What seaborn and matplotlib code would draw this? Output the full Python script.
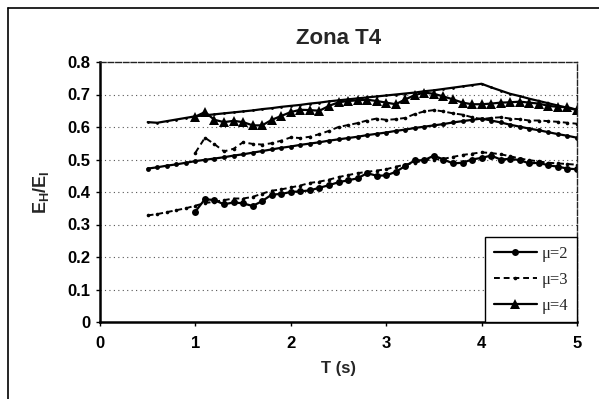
import numpy as np
import pandas as pd
import matplotlib
matplotlib.use("Agg")
import matplotlib.pyplot as plt
import seaborn as sns
from matplotlib.lines import Line2D

sns.set_theme(style="white")
plt.rcParams['font.family'] = ['Liberation Sans', 'DejaVu Sans']
plt.rcParams['mathtext.fontset'] = 'custom'
plt.rcParams['mathtext.rm'] = 'Liberation Sans:bold'
plt.rcParams['mathtext.it'] = 'Liberation Sans:bold'
plt.rcParams['mathtext.bf'] = 'Liberation Sans:bold'

# ---- data ----
T_full = [0.5, 0.6, 0.7, 0.8, 0.9, 1.0, 1.1, 1.2, 1.3, 1.4, 1.5, 1.6, 1.7, 1.8, 1.9,
          2.0, 2.1, 2.2, 2.3, 2.4, 2.5, 2.6, 2.7, 2.8, 2.9, 3.0, 3.1, 3.2, 3.3, 3.4,
          3.5, 3.6, 3.7, 3.8, 3.9, 4.0, 4.1, 4.2, 4.3, 4.4, 4.5, 4.6, 4.7, 4.8, 4.9, 5.0]
T_data = T_full[5:]

mu2_smooth = [.472, .476, .481, .485, .490, .495, .499, .503, .507, .512, .516, .521, .526,
              .531, .536, .540, .545, .549, .553, .558, .562, .566, .570, .575, .579, .583,
              .588, .592, .597, .601, .605, .609, .614, .618, .622, .626, .620, .614, .607,
              .601, .595, .590, .584, .578, .573, .567]
mu2_data = [.340, .378, .375, .362, .368, .365, .357, .372, .392, .394, .400, .402, .405,
            .413, .421, .430, .436, .442, .458, .450, .451, .462, .480, .497, .498, .512,
            .500, .488, .490, .500, .505, .512, .500, .502, .498, .488, .490, .482, .478,
            .472, .470]
mu3_upper = [.521, .567, .547, .525, .533, .553, .548, .546, .550, .558, .568, .566, .570,
             .578, .588, .600, .606, .612, .620, .626, .622, .624, .628, .640, .648, .652,
             .648, .642, .638, .630, .624, .628, .630, .626, .624, .620, .620, .618, .616,
             .613, .610]
mu3_lower = [.328, .332, .338, .344, .350, .358, .366, .370, .375, .380, .380, .385, .395,
             .404, .408, .414, .420, .428, .432, .438, .446, .452, .458, .462, .466, .470,
             .478, .484, .490, .498, .500, .502, .508, .514, .518, .522, .520, .516, .510,
             .503, .498, .494, .490, .488, .486, .484]
mu4_smooth = [.615, .613, .618, .623, .628, .633, .636, .639, .642, .645, .648, .651, .655,
              .658, .662, .665, .668, .672, .675, .679, .682, .685, .688, .691, .694, .697,
              .700, .703, .706, .710, .713, .717, .721, .725, .729, .733, .722, .712, .702,
              .695, .687, .680, .673, .666, .659, .652]
mu4_data = [.632, .646, .622, .615, .619, .615, .605, .605, .622, .634, .646, .653, .652,
            .650, .665, .676, .680, .682, .684, .680, .675, .670, .685, .698, .706, .702,
            .694, .685, .675, .670, .670, .672, .675, .676, .678, .675, .672, .665, .662,
            .661, .653]

labels = ['\u03bc=2', '\u03bc=3', '\u03bc=4']

fig = plt.figure(figsize=(5.99, 3.99), dpi=100)
ax = fig.add_axes([100/599, 1-322/399, 477/599, 260/399])

def draw(x, y, **kw):
    df = pd.DataFrame({'T': x, 'v': y})
    sns.lineplot(data=df, x='T', y='v', ax=ax, color='black', estimator=None,
                 sort=False, **kw)

draw(T_full, mu4_smooth, linewidth=1.6, marker='o', markersize=2, markeredgewidth=0)
draw(T_data, mu4_data, linewidth=1.6, marker='^', markersize=6.5, markeredgewidth=0)
draw(T_data, mu3_upper, linewidth=1.4, linestyle=(0, (3, 2)), marker='o', markersize=2.6,
     markeredgewidth=0)
draw(T_full, mu2_smooth, linewidth=1.6, marker='o', markersize=3.5, markeredgewidth=0)
draw(T_full, mu3_lower, linewidth=1.4, linestyle=(0, (3, 2)), marker='o', markersize=2.6,
     markeredgewidth=0)
draw(T_data, mu2_data, linewidth=1.6, marker='o', markersize=5, markeredgewidth=0)

ax.set_xlim(0, 5)
ax.set_ylim(0, 0.8)
ax.set_xticks([0, 1, 2, 3, 4, 5])
ax.set_yticks([0, 0.1, 0.2, 0.3, 0.4, 0.5, 0.6, 0.7, 0.8])
ax.set_xticklabels(['0', '1', '2', '3', '4', '5'])
ax.set_yticklabels(['0', '0.1', '0.2', '0.3', '0.4', '0.5', '0.6', '0.7', '0.8'])
for lab in ax.get_xticklabels() + ax.get_yticklabels():
    lab.set_fontweight('bold')
    lab.set_fontsize(12)
ax.tick_params(axis='both', which='major', direction='out', length=3, width=1,
               color='black', pad=4, left=True, bottom=True, labelcolor='black')
ax.tick_params(axis='x', pad=7)

for yv in [0.1, 0.2, 0.3, 0.4, 0.5, 0.6, 0.7]:
    ax.axhline(yv, color='#555555', linewidth=0.8, linestyle=(0, (1, 3)), zorder=0)

ax.spines['left'].set_linewidth(1.8)
ax.spines['bottom'].set_linewidth(1.8)
for s in ['left', 'bottom']:
    ax.spines[s].set_color('black')
for s in ['top', 'right']:
    ax.spines[s].set_color('#222222')
    ax.spines[s].set_linewidth(1.0)
    ax.spines[s].set_linestyle((0, (4, 1.5)))

ax.set_xlabel('T (s)', fontsize=12, fontweight='bold', labelpad=7)
ax.set_ylabel(r'$\mathbf{E_H/E_I}$', fontsize=13, labelpad=12)
ax.set_title('Zona T4', fontsize=16, fontweight='bold', pad=13)

handles = [
    Line2D([], [], color='black', linewidth=1.6, marker='o', markersize=5, markeredgewidth=0),
    Line2D([], [], color='black', linewidth=1.4, linestyle=(0, (3, 2)), marker='o',
           markersize=2.6, markeredgewidth=0),
    Line2D([], [], color='black', linewidth=1.6, marker='^', markersize=6.5, markeredgewidth=0),
]
leg = ax.legend(handles, labels, loc='lower right', borderaxespad=0, fancybox=False,
                framealpha=1, edgecolor='black', prop={'family': 'Liberation Serif', 'size': 12},
                handlelength=2.6, handletextpad=0.3, labelspacing=0.6, borderpad=0.5)
leg.get_frame().set_linewidth(1.0)

# outer figure frame (left and top visible)
fig.add_artist(Line2D([8/599, 8/599], [0, 1-8/399], transform=fig.transFigure,
                      color='black', linewidth=1.2))
fig.add_artist(Line2D([8/599, 1], [1-8/399, 1-8/399], transform=fig.transFigure,
                      color='black', linewidth=1.2))

fig.savefig('out.png', dpi=100, facecolor='white')
